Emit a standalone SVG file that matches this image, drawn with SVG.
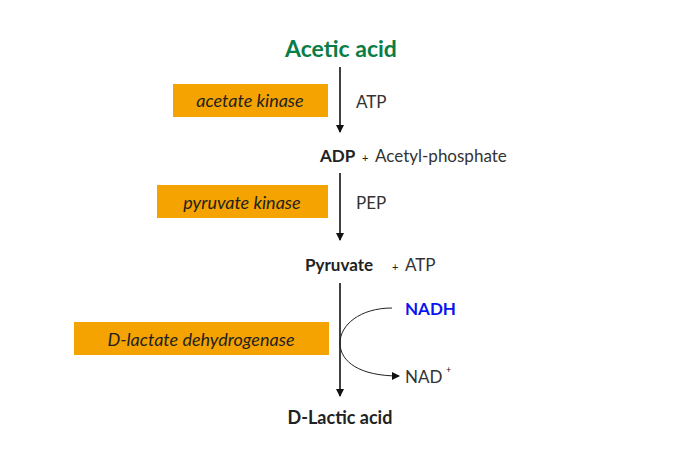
<svg xmlns="http://www.w3.org/2000/svg" width="690" height="460" viewBox="0 0 690 460">
<style>
text{font-family:Lato,"Open Sans","Liberation Sans",sans-serif;fill:#222}
.box{fill:#F5A300}
.enz{font-size:18px;font-style:italic;text-anchor:middle}
.lbl{font-size:17px;fill:#333}
.b{font-size:17px;font-weight:bold}
.ln{stroke:#111;stroke-width:1.6;fill:none}
.cv{stroke:#222;stroke-width:1;fill:none}
</style>
<defs><marker id="ah" markerWidth="8" markerHeight="8" refX="7" refY="4" orient="auto" markerUnits="userSpaceOnUse"><path d="M0,0 L8,4 L0,8 Z" fill="#111"/></marker></defs>
<rect width="690" height="460" fill="#fff"/>
<g id="acetic"><text x="341" y="57" text-anchor="middle" style="font-size:23px;font-weight:bold;fill:#0A7D45">Acetic acid</text></g>
<g id="e1"><rect class="box" x="173" y="84" width="155" height="33"/><text class="enz" x="250" y="107">acetate kinase</text></g>
<g id="atp1"><text class="lbl" x="356" y="108">ATP</text></g>
<g id="adp"><text x="320" y="162" class="b">ADP</text><text x="362" y="162" style="font-size:11px">+</text><text x="375" y="162" class="lbl">Acetyl-phosphate</text></g>
<g id="e2"><rect class="box" x="157" y="185" width="171" height="33"/><text class="enz" x="242" y="209">pyruvate kinase</text></g>
<g id="pep"><text class="lbl" x="356" y="209">PEP</text></g>
<g id="pyr"><text x="305" y="271" class="b">Pyruvate</text><text x="392" y="271" style="font-size:11px">+</text><text x="405" y="271" class="lbl">ATP</text></g>
<g id="e3"><rect class="box" x="74" y="322" width="255" height="33"/><text class="enz" x="201" y="346">D-lactate dehydrogenase</text></g>
<g id="nadh"><text x="405" y="315" style="font-size:17px;font-weight:bold;fill:#0A14F0">NADH</text></g>
<g id="nad"><text class="lbl" x="405" y="383">NAD</text><text x="446" y="373" style="font-size:9px">+</text></g>
<g id="lactic"><text x="340" y="424" text-anchor="middle" class="b" style="font-size:18px">D-Lactic acid</text></g>
<g id="connectors">
<line class="ln" x1="340" y1="67" x2="340" y2="132" marker-end="url(#ah)"/>
<line class="ln" x1="340" y1="173" x2="340" y2="240" marker-end="url(#ah)"/>
<line class="ln" x1="340" y1="283" x2="340" y2="396" marker-end="url(#ah)"/>
<path class="cv" d="M392,308 C360,308 340,325 340,343 C340,362 360,376 399,376" marker-end="url(#ah)"/>
</g>
</svg>
